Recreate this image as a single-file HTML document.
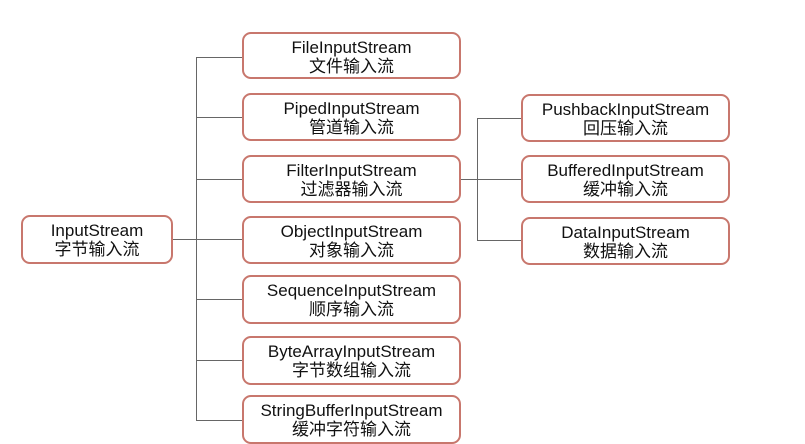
<!DOCTYPE html>
<html><head><meta charset="utf-8"><style>
body{margin:0;width:805px;height:437px;background:#fff;overflow:hidden;position:relative;font-family:"Liberation Sans","Noto Sans CJK SC",sans-serif;}
.b{position:absolute;box-sizing:border-box;border:2px solid #c8776d;border-radius:9px;background:#fff;text-align:center;font-size:17px;line-height:19px;color:#111;padding-top:4px;white-space:nowrap;}
.l{position:absolute;background:#666;}
</style></head><body>
<div class="l" style="left:173px;top:239px;width:69px;height:1px"></div>
<div class="l" style="left:196px;top:57px;width:1px;height:364px"></div>
<div class="l" style="left:196px;top:57px;width:46px;height:1px"></div>
<div class="l" style="left:196px;top:117px;width:46px;height:1px"></div>
<div class="l" style="left:196px;top:179px;width:46px;height:1px"></div>
<div class="l" style="left:196px;top:299px;width:46px;height:1px"></div>
<div class="l" style="left:196px;top:360px;width:46px;height:1px"></div>
<div class="l" style="left:196px;top:420px;width:46px;height:1px"></div>
<div class="l" style="left:461px;top:179px;width:60px;height:1px"></div>
<div class="l" style="left:477px;top:118px;width:1px;height:123px"></div>
<div class="l" style="left:477px;top:118px;width:44px;height:1px"></div>
<div class="l" style="left:477px;top:240px;width:44px;height:1px"></div>

<div class="b" style="left:21px;top:215px;width:152px;height:49px">InputStream<br>字节输入流</div>

<div class="b" style="left:242px;top:32px;width:219px;height:47px">FileInputStream<br>文件输入流</div>
<div class="b" style="left:242px;top:93px;width:219px;height:48px">PipedInputStream<br>管道输入流</div>
<div class="b" style="left:242px;top:155px;width:219px;height:48px">FilterInputStream<br>过滤器输入流</div>
<div class="b" style="left:242px;top:216px;width:219px;height:48px">ObjectInputStream<br>对象输入流</div>
<div class="b" style="left:242px;top:275px;width:219px;height:49px">SequenceInputStream<br>顺序输入流</div>
<div class="b" style="left:242px;top:336px;width:219px;height:49px">ByteArrayInputStream<br>字节数组输入流</div>
<div class="b" style="left:242px;top:395px;width:219px;height:49px">StringBufferInputStream<br>缓冲字符输入流</div>

<div class="b" style="left:521px;top:94px;width:209px;height:48px">PushbackInputStream<br>回压输入流</div>
<div class="b" style="left:521px;top:155px;width:209px;height:48px">BufferedInputStream<br>缓冲输入流</div>
<div class="b" style="left:521px;top:217px;width:209px;height:48px">DataInputStream<br>数据输入流</div>
</body></html>
